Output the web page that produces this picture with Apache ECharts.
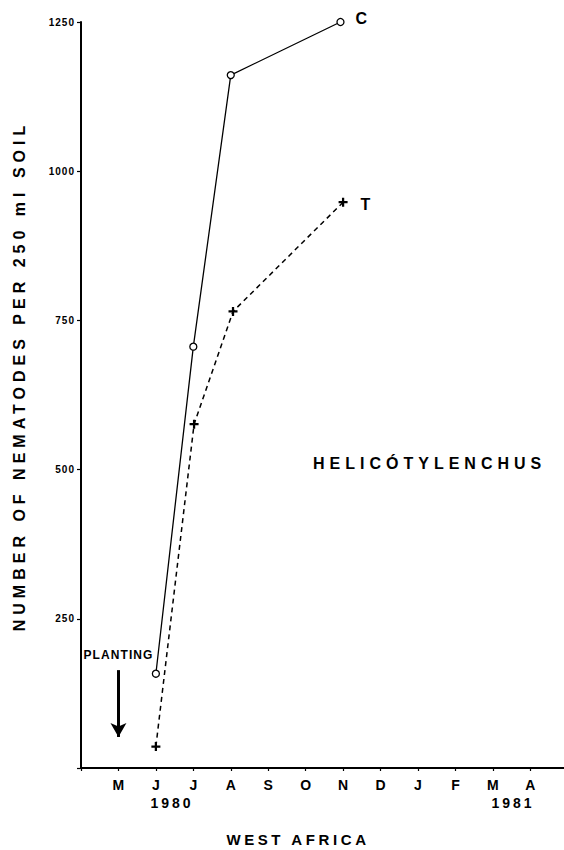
<!DOCTYPE html>
<html><head><meta charset="utf-8">
<script src="https://cdn.jsdelivr.net/npm/echarts@6/dist/echarts.min.js"></script>
<style>html,body{margin:0;padding:0;background:#fff}#c{width:564px;height:850px}</style>
</head><body><div id="c"></div>
<script>
// ---- data ----
const months = ['M','J','J','A','S','O','N','D','J','F','M','A'];
const yTicks = [250, 500, 750, 1000, 1250];
const cTime = [1, 2, 3, 5.93];
const cValues = [158, 706, 1161, 1250];
const tTime = [1, 2.02, 3.06, 6];
const tValues = [36, 576, 765, 948];
const plantingTime = 0;
const plantingArrow = [164, 52];
const yearLabels = [{text: '1980', t: 1.43}, {text: '1981', t: 10.54}];

const FONT = 'Liberation Sans, Arial, sans-serif';
const spacing = {
  'NUMBER OF NEMATODES PER 250 ml SOIL': 5.0,
  'WEST AFRICA': 3.6,
  'HELICÓTYLENCHUS': 5.0,
  'PLANTING': 1.1,
  '1980': 3, '1981': 3,
  '250': 1, '500': 1, '750': 1, '1000': 1, '1250': 1
};

const chart = echarts.init(document.getElementById('c'), null, {renderer: 'svg'});
const plus = 'path://M-1,-4L1,-4L1,-1L4,-1L4,1L1,1L1,4L-1,4L-1,1L-4,1L-4,-1L-1,-1Z';

const cData = cTime.map((t, i) => [t, cValues[i]]);
const tData = tTime.map((t, i) => [t, tValues[i]]);
cData[cData.length - 1] = {value: cData[cData.length - 1], label: {show: true, formatter: 'C', position: 'right', distance: 11, offset: [0, -4]}};
tData[tData.length - 1] = {value: tData[tData.length - 1], label: {show: true, formatter: 'T', position: 'right', distance: 13, offset: [0, 2]}};

chart.setOption({
  animation: false,
  backgroundColor: '#fff',
  grid: {left: 81, right: 0, top: 22, bottom: 82, containLabel: false},
  xAxis: {
    type: 'value', min: -1, max: 11.9, interval: 1,
    splitLine: {show: false},
    axisLine: {onZero: false, lineStyle: {color: '#000', width: 2}},
    axisTick: {length: 3, lineStyle: {color: '#000', width: 1.2}},
    axisLabel: {
      margin: 10, color: '#000', fontSize: 14, fontWeight: 'bold', fontFamily: FONT,
      showMinLabel: true, showMaxLabel: false,
      formatter: v => { const i = Math.round(v); return (Math.abs(v - i) < 1e-6 && i >= 0 && i < months.length) ? months[i] : ''; }
    }
  },
  yAxis: {
    type: 'value', min: 0, max: 1250, interval: 250,
    splitLine: {show: false},
    axisLine: {show: true, onZero: false, lineStyle: {color: '#000', width: 2}},
    axisTick: {show: true, length: 4, lineStyle: {color: '#000', width: 1.2}},
    axisLabel: {
      margin: 6, color: '#000', fontSize: 10, fontWeight: 'bold', fontFamily: FONT,
      formatter: v => yTicks.includes(v) ? String(v) : ''
    }
  },
  series: [
    {
      name: 'C', type: 'line', data: cData, silent: true,
      symbol: 'circle', symbolSize: 7,
      itemStyle: {color: '#fff', borderColor: '#000', borderWidth: 1.3},
      lineStyle: {color: '#000', width: 1.3},
      label: {color: '#000', fontSize: 16, fontWeight: 'bold', fontFamily: FONT},
      z: 3,
      markLine: {
        silent: true, animation: false,
        symbol: ['none', 'arrow'], symbolSize: [12, 14],
        lineStyle: {color: '#000', width: 3, type: 'solid'},
        label: {show: true, position: 'start', distance: 9, formatter: 'PLANTING', color: '#000', fontSize: 12, fontWeight: 'bold', fontFamily: FONT},
        data: [[{coord: [plantingTime, plantingArrow[0]]}, {coord: [plantingTime, plantingArrow[1]]}]]
      }
    },
    {
      name: 'T', type: 'line', data: tData, silent: true,
      symbol: plus, symbolSize: 9,
      itemStyle: {color: '#000'},
      lineStyle: {color: '#000', width: 1.5, type: [5, 4]},
      label: {color: '#000', fontSize: 16, fontWeight: 'bold', fontFamily: FONT},
      z: 2
    }
  ]
});

const baseY = chart.convertToPixel({yAxisIndex: 0}, 0);
chart.setOption({
  graphic: [
    ...yearLabels.map(y => ({
      type: 'text', x: chart.convertToPixel({xAxisIndex: 0}, y.t), y: baseY + 35,
      style: {text: y.text, fill: '#000', font: 'bold 14px ' + FONT, textAlign: 'center', textVerticalAlign: 'middle'}
    })),
    {type: 'text', x: 298, y: 839, style: {text: 'WEST AFRICA', fill: '#000', font: 'bold 15px ' + FONT, textAlign: 'center', textVerticalAlign: 'middle'}},
    {type: 'text', x: 313, y: 463, style: {text: 'HELICÓTYLENCHUS', fill: '#000', font: 'bold 16px ' + FONT, textAlign: 'left', textVerticalAlign: 'middle'}},
    {type: 'text', x: 19, y: 376, rotation: Math.PI / 2, style: {text: 'NUMBER OF NEMATODES PER 250 ml SOIL', fill: '#000', font: 'bold 16px ' + FONT, textAlign: 'center', textVerticalAlign: 'middle'}}
  ]
});

function applySpacing() {
  document.querySelectorAll('#c svg text').forEach(el => {
    const s = spacing[el.textContent];
    if (s) el.style.letterSpacing = s + 'px';
  });
}
chart.on('finished', applySpacing);
setTimeout(applySpacing, 50);
setTimeout(applySpacing, 300);
</script></body></html>
